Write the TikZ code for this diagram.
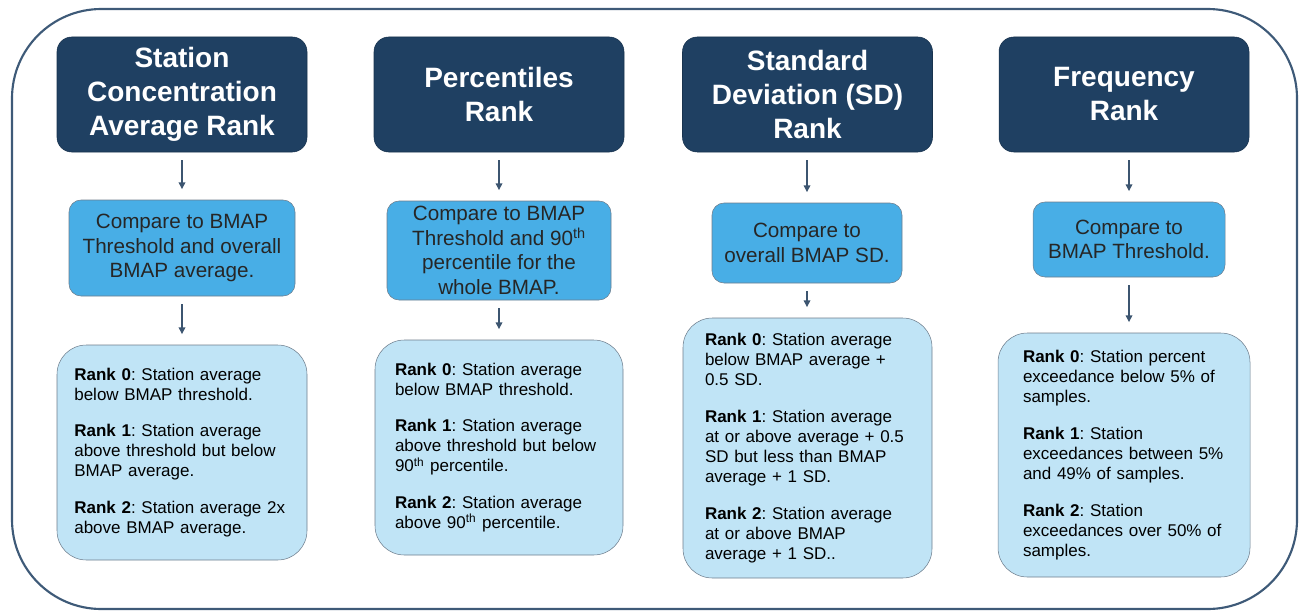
\documentclass[tikz,border=0pt]{standalone}
\usepackage{fontspec}
\setmainfont{Liberation Sans}
\usetikzlibrary{arrows.meta}
\frenchspacing

\definecolor{titlenavy}{RGB}{31,64,98}
\definecolor{compareblue}{RGB}{72,174,230}
\definecolor{rankblue}{RGB}{192,228,246}
\definecolor{boxedge}{RGB}{110,125,140}
\definecolor{framecol}{RGB}{62,90,120}
\definecolor{arrowcol}{RGB}{60,85,112}

\tikzset{
  titlebox/.style={draw=titlenavy!80!black, fill=titlenavy, rounded corners=11pt,
    text=white, align=center, font=\fontsize{21}{25.5}\selectfont\bfseries,
    minimum width=187.5pt, minimum height=86.25pt, inner sep=2pt},
  comparebox/.style={draw=boxedge, fill=compareblue, rounded corners=9pt,
    text=black!85, align=center, font=\fontsize{15.5}{18.4}\selectfont, inner sep=2pt},
  rankbox/.style={draw=boxedge, fill=rankblue, rounded corners=22pt,
    align=left, font=\fontsize{12.75}{15}\selectfont, inner ysep=2pt},
  flowarrow/.style={draw=arrowcol, line width=0.9pt,
    -{Triangle[length=5pt,width=5pt]}, shorten <=6pt, shorten >=8pt},
}

\begin{document}
\begin{tikzpicture}[x=0.75pt,y=-0.75pt]

    % Fix the page size
    \useasboundingbox (0,0) rectangle (1301,613);

    % Outer frame round all four columns
    \draw[draw=framecol, line width=1.6pt, rounded corners=67pt] (12,9) rectangle (1297,609);

    % Title boxes
    \node[titlebox] (avgtitle) at (182,94.5) {Station\\Concentration\\Average Rank};
    \node[titlebox] (pcttitle) at (499,94.5) {Percentiles\\Rank};
    \node[titlebox] (sdtitle) at (807.5,94.5) {Standard\\Deviation (SD)\\Rank};
    \node[titlebox] (freqtitle) at (1124,94.5) {Frequency\\Rank};

    % Compare boxes
    \node[comparebox, minimum width=169.5pt, minimum height=72pt] (avgcomp) at (182,248)
        {Compare to BMAP\\Threshold and overall\\BMAP average.};
    \node[comparebox, minimum width=168pt, minimum height=74.25pt] (pctcomp) at (499,250.5)
        {Compare to BMAP\\Threshold and 90\textsuperscript{th}\\percentile for the\\whole BMAP.};
    \node[comparebox, minimum width=142.5pt, minimum height=60pt] (sdcomp) at (807,243)
        {Compare to\\overall BMAP SD.};
    \node[comparebox, minimum width=144pt, minimum height=56.25pt] (freqcomp) at (1129,239.5)
        {Compare to\\BMAP Threshold.};

    % Rank boxes
    \node[rankbox, inner xsep=13pt, text width=161.5pt, minimum height=161.25pt] (avgrank) at (182,452.5)
        {\textbf{Rank 0}: Station average\\below BMAP threshold.\\[12.5pt]
         \textbf{Rank 1}: Station average\\above threshold but below\\BMAP average.\\[12.5pt]
         \textbf{Rank 2}: Station average 2x\\above BMAP average.};
    \node[rankbox, inner xsep=15pt, text width=156pt, minimum height=161.25pt] (pctrank) at (499,447.5)
        {\textbf{Rank 0}: Station average\\below BMAP threshold.\\[12.5pt]
         \textbf{Rank 1}: Station average\\above threshold but below\\90\textsuperscript{th} percentile.\\[12.5pt]
         \textbf{Rank 2}: Station average\\above 90\textsuperscript{th} percentile.};
    \node[rankbox, inner xsep=16.5pt, text width=153.75pt, minimum height=195pt] (sdrank) at (807.5,448)
        {\textbf{Rank 0}: Station average\\below BMAP average +\\0.5 SD.\\[12.5pt]
         \textbf{Rank 1}: Station average\\at or above average + 0.5\\SD but less than BMAP\\average + 1 SD.\\[12.5pt]
         \textbf{Rank 2}: Station average\\at or above BMAP\\average + 1 SD..};
    \node[rankbox, inner xsep=18.75pt, text width=151.5pt, minimum height=183pt] (freqrank) at (1124,455)
        {\textbf{Rank 0}: Station percent\\exceedance below 5\% of\\samples.\\[12.5pt]
         \textbf{Rank 1}: Station\\exceedances between 5\%\\and 49\% of samples.\\[12.5pt]
         \textbf{Rank 2}: Station\\exceedances over 50\% of\\samples.};

    % Arrows from title to compare box
    \draw[flowarrow] (avgcomp.north |- avgtitle.south) -- (avgcomp.north);
    \draw[flowarrow] (pctcomp.north |- pcttitle.south) -- (pctcomp.north);
    \draw[flowarrow] (sdcomp.north |- sdtitle.south) -- (sdcomp.north);
    \draw[flowarrow] (freqcomp.north |- freqtitle.south) -- (freqcomp.north);

    % Arrows from compare box to rank box
    \draw[flowarrow] (avgcomp.south) -- (avgcomp.south |- avgrank.north);
    \draw[flowarrow] (pctcomp.south) -- (pctcomp.south |- pctrank.north);
    \draw[flowarrow] (sdcomp.south) -- (sdcomp.south |- sdrank.north);
    \draw[flowarrow] (freqcomp.south) -- (freqcomp.south |- freqrank.north);

\end{tikzpicture}
\end{document}
